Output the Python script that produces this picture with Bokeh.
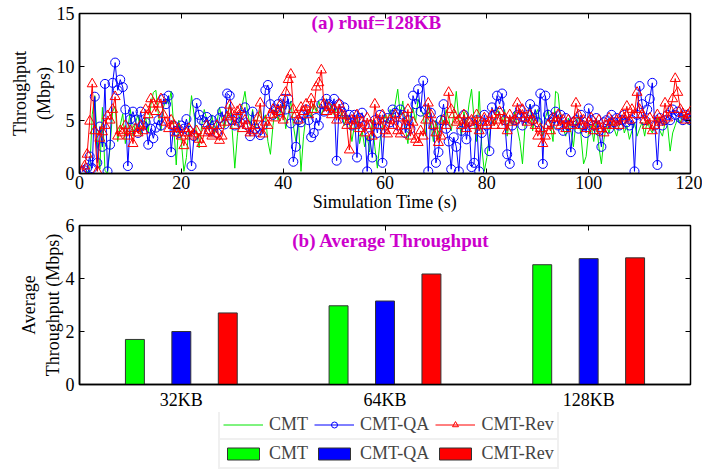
from bokeh.plotting import figure
from bokeh.layouts import column
from bokeh.models import (FactorRange, Range1d, FixedTicker, LinearAxis, CategoricalAxis,
                          Legend, LegendItem, Label, ColumnDataSource, CustomJSTickFormatter)
from bokeh.transform import dodge
from bokeh.embed import file_html
from bokeh.resources import INLINE

FONT = "Liberation Serif"

# ---------------- data ----------------
time_step = 0.5
cmt = [
    0.0, 0.0, 0.2, 0.1, 5.5, 7.3, 3.0, 0.4, 6.2, 0.3,
    0.0, 2.5, 5.8, 6.3, 3.0, 4.5, 5.6, 2.8, 4.2, 6.0,
    3.5, 4.8, 5.5, 3.6, 4.6, 5.2, 3.9, 6.4, 7.6, 7.8,
    5.5, 4.0, 6.2, 7.0, 6.5, 7.7, 4.5, 0.8, 5.0, 3.0,
    0.2, 1.5, 4.5, 7.3, 5.5, 3.8, 2.4, 4.5, 6.0, 5.0,
    4.2, 5.5, 3.8, 4.8, 6.2, 5.0, 4.3, 5.5, 6.5, 4.0,
    0.5, 3.5, 5.5, 6.5, 7.7, 5.8, 4.5, 6.0, 4.2, 5.2,
    6.0, 4.8, 5.5, 3.0, 1.8, 4.5, 6.2, 5.0, 5.8, 6.5,
    4.2, 5.5, 6.8, 4.5, 3.0, 5.0, 0.2, 3.5, 5.5, 6.0,
    5.2, 6.5, 5.8, 6.8, 5.5, 6.2, 7.0, 5.8, 6.5, 5.5,
    6.2, 5.0, 5.8, 4.5, 5.5, 4.8, 3.0, 4.5, 5.5, 2.8,
    4.0, 2.5, 3.5, 2.0, 5.0, 2.5, 0.5, 3.0, 4.5, 5.5,
    4.8, 6.0, 5.2, 6.5, 7.9, 5.5, 6.8, 4.2, 2.8, 5.5,
    6.2, 4.8, 7.0, 6.0, 5.5, 3.5, 6.5, 4.8, 3.0, 5.0,
    3.2, 5.5, 4.5, 6.0, 5.2, 4.0, 5.5, 7.7, 5.0, 3.5,
    5.8, 4.5, 6.5, 7.9, 5.0, 3.0, 7.7, 2.5, 0.2, 1.5,
    3.5, 5.0, 4.5, 6.2, 5.5, 4.8, 6.0, 3.5, 5.2, 4.5,
    5.8, 4.2, 3.0, 0.9, 4.5, 5.5, 6.5, 4.0, 5.5, 6.0,
    4.8, 3.5, 5.2, 6.0, 4.5, 3.0, 7.7, 7.5, 5.0, 4.2,
    3.5, 5.2, 4.0, 2.5, 4.8, 5.5, 3.5, 0.9, 1.6, 4.0,
    4.5, 3.0, 5.0, 2.5, 0.9, 3.2, 4.5, 3.8, 4.8, 4.2,
    3.5, 4.5, 5.2, 3.8, 4.5, 3.2, 4.0, 4.8, 3.5, 4.2,
    4.8, 3.5, 5.0, 4.2, 3.8, 4.5, 5.2, 4.0, 3.5, 4.8,
    4.5, 2.1, 3.8, 4.5, 5.2, 4.8, 5.5, 5.0, 4.6, 5.2,
]
cmt_qa = [
    0.2, 0.3, 0.5, 1.6, 0.5, 7.2, 1.0, 4.4, 2.5, 8.4,
    0.2, 2.7, 8.5, 10.4, 7.8, 8.8, 8.1, 6.0, 0.7, 5.1,
    5.8, 5.0, 3.8, 5.8, 4.5, 4.8, 2.7, 4.2, 3.3, 4.3,
    5.0, 4.5, 7.0, 6.5, 7.3, 2.0, 4.5, 4.0, 3.8, 4.5,
    4.2, 5.1, 4.0, 0.7, 3.5, 6.6, 5.5, 5.0, 4.8, 5.3,
    4.0, 5.0, 4.5, 3.8, 5.2, 5.8, 4.6, 7.5, 7.3, 5.0,
    4.5, 5.2, 4.8, 5.5, 6.2, 4.5, 3.5, 5.8, 4.2, 3.9,
    3.6, 4.5, 7.8, 8.3, 6.5, 5.5, 6.0, 6.5, 5.8, 7.0,
    6.0, 7.0, 4.7, 1.1, 2.5, 5.0, 4.8, 5.5, 6.0, 5.0,
    3.4, 3.8, 5.2, 4.5, 6.5, 5.8, 7.0, 6.5, 6.2, 7.0,
    1.2, 6.5, 5.8, 6.2, 5.0, 5.5, 4.5, 5.5, 1.5, 5.2,
    5.7, 4.5, 0.2, 3.5, 1.5, 5.0, 3.8, 5.5, 1.0, 4.5,
    5.2, 4.8, 6.0, 5.7, 4.5, 6.0, 5.5, 3.8, 5.0, 4.2,
    7.3, 6.5, 7.9, 5.8, 8.7, 6.0, 0.2, 5.7, 4.5, 1.0,
    2.0, 5.0, 6.5, 4.2, 3.0, 0.4, 3.4, 2.5, 0.2, 4.0,
    5.5, 3.2, 4.8, 0.6, 1.0, 5.0, 0.2, 3.8, 5.5, 4.5,
    2.1, 6.2, 5.5, 7.3, 6.5, 7.5, 5.0, 1.8, 0.9, 4.5,
    5.0, 5.5, 6.0, 4.5, 5.2, 5.5, 6.5, 5.0, 6.0, 4.8,
    7.5, 0.9, 7.3, 5.5, 4.8, 5.2, 5.8, 4.5, 5.5, 4.0,
    5.2, 4.5, 2.0, 4.8, 5.0, 4.2, 5.5, 4.5, 3.8, 6.1,
    5.0, 4.5, 5.2, 4.0, 2.5, 4.8, 5.0, 4.2, 5.5, 4.8,
    5.2, 4.5, 5.0, 5.5, 4.8, 4.5, 5.0, 0.2, 5.5, 8.2,
    6.5, 5.0, 6.0, 7.0, 8.5, 4.5, 0.8, 5.2, 4.5, 5.0,
    5.5, 5.0, 6.0, 5.5, 5.8, 5.2, 5.0, 5.5, 5.2, 5.0,
]
cmt_rev = [
    0.2, 0.7, 1.8, 4.9, 8.4, 4.0, 0.2, 3.3, 3.9, 4.5,
    5.4, 5.0, 6.0, 7.2, 3.5, 4.0, 3.8, 4.5, 3.5, 4.0,
    2.8, 4.2, 3.8, 4.5, 4.0, 6.0, 5.5, 7.0, 6.5, 5.8,
    6.5, 7.0, 5.5, 4.8, 4.2, 5.0, 4.5, 3.8, 4.2, 3.5,
    2.6, 3.8, 4.2, 3.5, 3.7, 4.0, 3.2, 2.8, 3.8, 4.5,
    4.0, 3.5, 3.7, 4.5, 3.1, 3.5, 4.8, 5.3, 6.4, 5.5,
    4.5, 5.8, 6.0, 4.2, 5.0, 4.5, 3.8, 4.0, 4.5, 5.2,
    6.6, 3.7, 4.8, 4.5, 5.5, 6.0, 5.2, 5.8, 6.5, 5.0,
    7.6, 8.8, 9.3, 6.0, 5.5, 5.0, 6.2, 5.8, 6.5, 5.5,
    7.0, 6.0, 8.1, 8.5, 9.7, 6.5, 5.8, 6.2, 5.5, 6.0,
    5.0, 6.5, 5.5, 5.4, 4.5, 2.2, 5.0, 4.5, 5.5, 4.2,
    4.8, 3.8, 5.2, 4.5, 3.5, 6.5, 5.0, 4.5, 5.5, 4.0,
    3.7, 5.0, 4.5, 5.5, 4.0, 3.7, 5.2, 4.5, 6.0, 3.5,
    4.8, 3.2, 2.9, 4.0, 3.5, 5.0, 6.6, 5.5, 4.5, 3.8,
    2.9, 3.5, 5.0, 4.5, 7.6, 6.0, 5.5, 4.8, 5.0, 4.5,
    5.5, 4.2, 4.8, 5.0, 4.5, 5.5, 4.0, 4.8, 5.2, 4.5,
    4.8, 5.5, 4.5, 5.0, 5.8, 4.5, 5.2, 4.0, 5.5, 4.8,
    5.0, 6.6, 5.5, 6.0, 5.2, 4.8, 5.5, 5.0, 4.5, 3.5,
    4.2, 2.8, 3.5, 4.5, 4.0, 5.2, 4.8, 5.5, 4.5, 5.0,
    4.2, 5.0, 4.5, 4.8, 6.6, 5.5, 4.5, 5.0, 4.2, 4.8,
    5.2, 4.0, 4.5, 5.0, 4.2, 3.8, 4.5, 5.2, 4.8, 4.5,
    5.0, 4.5, 5.5, 5.2, 6.3, 5.0, 6.0, 5.5, 7.6, 6.0,
    5.5, 5.0, 4.5, 5.2, 4.0, 4.5, 5.5, 4.8, 5.0, 6.6,
    5.2, 6.0, 7.0, 8.9, 7.6, 6.0, 5.6, 5.0, 5.5, 5.8,
]
time_s = [time_step * (i + 1) for i in range(len(cmt))]

buffers = ["32KB", "64KB", "128KB"]
avg_cmt = [1.70, 2.97, 4.52]
avg_cmt_qa = [2.00, 3.15, 4.75]
avg_cmt_rev = [2.70, 4.17, 4.78]

series_names = ["CMT", "CMT-QA", "CMT-Rev"]
x_ticks = [0, 20, 40, 60, 80, 100, 120]
y1_ticks = [0, 5, 10, 15]
y2_ticks = [0, 2, 4, 6]

GREEN_LINE = "#00e600"
GREEN = "#00ff00"
BLUE = "#0000ff"
RED = "#ff0000"
MAGENTA = "#cc00cc"
TXT = "18px"


def style_axis(ax):
    ax.major_label_text_font = FONT
    ax.major_label_text_font_size = TXT
    ax.major_label_text_color = "black"
    ax.axis_label_text_font = FONT
    ax.axis_label_text_font_size = TXT
    ax.axis_label_text_font_style = "normal"
    ax.axis_label_text_color = "black"
    ax.major_tick_in = 5
    ax.major_tick_out = 0
    ax.minor_tick_line_color = None
    ax.axis_line_color = "black"
    ax.axis_line_width = 1.5
    ax.major_tick_line_width = 1


def mirror_axis(p, ticker, loc, cat=False):
    ax = (CategoricalAxis() if cat else LinearAxis(ticker=ticker))
    ax.formatter = CustomJSTickFormatter(code="return ''")
    ax.major_label_standoff = 0
    ax.major_tick_in = 5
    ax.major_tick_out = 0
    ax.minor_tick_line_color = None
    ax.axis_line_color = None
    p.add_layout(ax, loc)


# ---------------- (a) time series ----------------
p1 = figure(width=702, height=216, x_range=Range1d(0, 120), y_range=Range1d(0, 15),
            output_backend="svg", toolbar_location=None,
            min_border_left=79, min_border_right=12, min_border_top=13, min_border_bottom=43)
p1.grid.visible = False
p1.outline_line_color = "black"
p1.outline_line_width = 1.5
p1.outline_line_alpha = 1

src1 = ColumnDataSource(dict(t=time_s, cmt=cmt, qa=cmt_qa, rev=cmt_rev))
p1.line("t", "cmt", source=src1, color=GREEN_LINE, line_width=1)
p1.line("t", "qa", source=src1, color=BLUE, line_width=1)
p1.scatter("t", "qa", source=src1, marker="circle", size=9, fill_color=None,
           line_color=BLUE, line_width=1)
p1.line("t", "rev", source=src1, color=RED, line_width=1)
p1.scatter("t", "rev", source=src1, marker="triangle", size=10, fill_color=None,
           line_color=RED, line_width=1)

p1.xaxis.ticker = FixedTicker(ticks=x_ticks)
p1.yaxis.ticker = FixedTicker(ticks=y1_ticks)
p1.xaxis.axis_label = "Simulation Time (s)"
p1.yaxis.axis_label = "Throughput\n(Mbps)"
for ax in p1.xaxis + p1.yaxis:
    style_axis(ax)
p1.xaxis.major_label_standoff = 2
p1.xaxis.axis_label_standoff = 0
p1.yaxis.major_label_standoff = 5
p1.yaxis.axis_label_standoff = 0
mirror_axis(p1, FixedTicker(ticks=x_ticks), "above")
mirror_axis(p1, FixedTicker(ticks=y1_ticks), "right")

p1.add_layout(Label(x=58.3, y=14.2, text="(a) rbuf=128KB", text_font=FONT,
                    text_font_style="bold", text_font_size="19px", text_color=MAGENTA,
                    text_align="center", text_baseline="middle"))

# ---------------- (b) average throughput ----------------
p2 = figure(width=702, height=196, x_range=FactorRange(*buffers), y_range=Range1d(0, 6),
            output_backend="svg", toolbar_location=None,
            min_border_left=79, min_border_right=12, min_border_top=9, min_border_bottom=27)
p2.grid.visible = False
p2.outline_line_color = "black"
p2.outline_line_width = 1.5
p2.outline_line_alpha = 1

src2 = ColumnDataSource(dict(b=buffers, cmt=avg_cmt, qa=avg_cmt_qa, rev=avg_cmt_rev))
bw = 0.093
bar_style = dict(source=src2, width=bw, line_color="#333333", line_width=1)
p2.vbar(x=dodge("b", -0.228, range=p2.x_range), top="cmt", fill_color=GREEN, **bar_style)
p2.vbar(x=dodge("b", 0.0, range=p2.x_range), top="qa", fill_color=BLUE, **bar_style)
p2.vbar(x=dodge("b", 0.228, range=p2.x_range), top="rev", fill_color=RED, **bar_style)

p2.yaxis.ticker = FixedTicker(ticks=y2_ticks)
p2.yaxis.axis_label = "Average\nThroughput (Mbps)"
for ax in p2.xaxis + p2.yaxis:
    style_axis(ax)
p2.xaxis.major_tick_in = 0
p2.xaxis.major_label_standoff = 5
p2.yaxis.major_label_standoff = 5
p2.yaxis.axis_label_standoff = 0
mirror_axis(p2, None, "above", cat=True)
mirror_axis(p2, FixedTicker(ticks=y2_ticks), "right")

p2.add_layout(Label(x=1.53, y=5.44, text="(b) Average Throughput", text_font=FONT,
                    text_font_style="bold", text_font_size="19px", text_color=MAGENTA,
                    text_align="center", text_baseline="middle"))

# ---------------- legends (own strip) ----------------
p3 = figure(width=702, height=57, x_range=Range1d(0, 1), y_range=Range1d(0, 1),
            output_backend="svg", toolbar_location=None, x_axis_type=None, y_axis_type=None,
            min_border_left=0, min_border_right=0, min_border_top=0, min_border_bottom=0)
p3.grid.visible = False
p3.outline_line_color = None

# proxy renderers kept outside the visible range; only their legend glyphs show
off_x, off_y = [-5, -4], [-5, -5]
lg = p3.line(x=off_x, y=off_y, color=GREEN_LINE, line_width=1)
lb = p3.line(x=off_x, y=off_y, color=BLUE, line_width=1)
sb = p3.scatter(x=off_x, y=off_y, marker="circle", size=9, fill_color=None, line_color=BLUE)
lr = p3.line(x=off_x, y=off_y, color=RED, line_width=1)
sr = p3.scatter(x=off_x, y=off_y, marker="triangle", size=10, fill_color=None, line_color=RED)
bg = p3.vbar(x=off_x, top=off_y, width=0.1, fill_color=GREEN, line_color="#333333")
bb = p3.vbar(x=off_x, top=off_y, width=0.1, fill_color=BLUE, line_color="#333333")
br = p3.vbar(x=off_x, top=off_y, width=0.1, fill_color=RED, line_color="#333333")

common = dict(orientation="horizontal", glyph_width=40, glyph_height=15,
              label_standoff=6, spacing=6, padding=3, margin=0,
              label_text_font=FONT, label_text_font_size=TXT,
              border_line_color="#e2e2e2", border_line_width=2,
              background_fill_color="white", background_fill_alpha=1)
leg1 = Legend(items=[LegendItem(label=series_names[0], renderers=[lg]),
                     LegendItem(label=series_names[1], renderers=[lb, sb]),
                     LegendItem(label=series_names[2], renderers=[lr, sr])],
              location=(139, 29), **common)
leg2 = Legend(items=[LegendItem(label=series_names[0], renderers=[bg]),
                     LegendItem(label=series_names[1], renderers=[bb]),
                     LegendItem(label=series_names[2], renderers=[br])],
              location=(139, 0), **common)
p3.add_layout(leg1)
p3.add_layout(leg2)

layout = column(p1, p2, p3, spacing=0)
open("out.html", "w").write(file_html(layout, INLINE))
